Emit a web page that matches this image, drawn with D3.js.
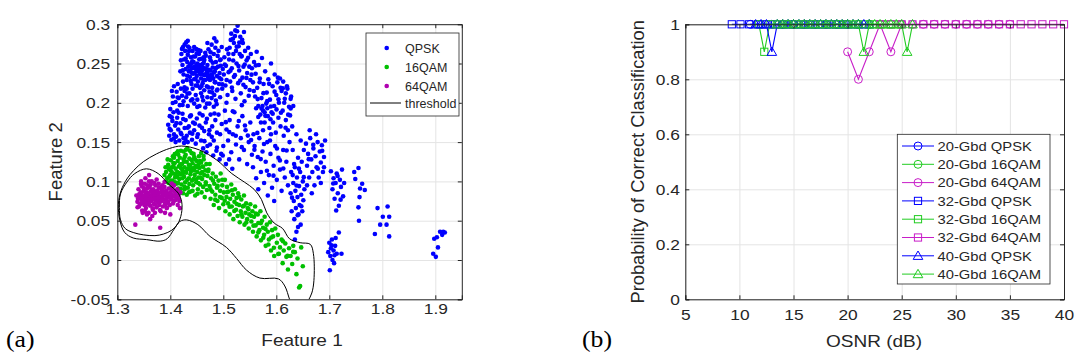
<!DOCTYPE html>
<html lang="en">
<head>
<meta charset="UTF-8">
<title>Feature space and classification probability</title>
<script src="https://d3js.org/d3.v7.min.js"></script>
<style>
  body { margin: 0; background: #fff; }
  svg { display: block; font-family: Arial, "Liberation Sans", Helvetica, sans-serif; }
  .grid line { stroke: #e4e4e4; }
  .grid path { display: none; }
  .ax path, .ax line { stroke: #262626; }
  .ax text { fill: #262626; font-size: 15.5px; font-family: Arial, "Liberation Sans", sans-serif; }
</style>
</head>
<body>
<div id="chart"></div>
<script>
// ---- panel (a): feature space ----
const xTicksA = [1.3, 1.4, 1.5, 1.6, 1.7, 1.8, 1.9];
const xLabelsA = ["1.3", "1.4", "1.5", "1.6", "1.7", "1.8", "1.9"];
const yTicksA = [-0.05, 0, 0.05, 0.1, 0.15, 0.2, 0.25, 0.3];
const yLabelsA = ["-0.05", "0", "0.05", "0.1", "0.15", "0.2", "0.25", "0.3"];
const classNames = ["QPSK", "16QAM", "64QAM", "threshold"];

const qpskPts = [
  [1.421,0.262],[1.423,0.248],[1.424,0.271],[1.425,0.236],[1.426,0.255],[1.428,0.266],[1.429,0.243],[1.430,0.277],[1.431,0.229],[1.432,0.252],
  [1.433,0.261],[1.435,0.240],[1.436,0.270],[1.437,0.233],[1.438,0.249],[1.439,0.258],[1.440,0.224],[1.441,0.244],[1.442,0.266],[1.443,0.237],
  [1.444,0.252],[1.445,0.230],[1.446,0.246],[1.447,0.259],[1.448,0.222],[1.449,0.240],[1.450,0.234],[1.451,0.250],[1.452,0.227],[1.453,0.244],
  [1.454,0.262],[1.455,0.238],[1.456,0.219],[1.457,0.247],[1.458,0.231],[1.459,0.256],[1.460,0.241],[1.461,0.225],[1.462,0.236],[1.463,0.251],
  [1.464,0.216],[1.465,0.244],[1.466,0.229],[1.467,0.260],[1.468,0.238],[1.469,0.221],[1.470,0.248],[1.471,0.233],[1.472,0.268],[1.473,0.242],
  [1.474,0.214],[1.475,0.229],[1.476,0.254],[1.477,0.236],[1.478,0.274],[1.479,0.219],[1.480,0.245],[1.481,0.231],[1.482,0.262],[1.483,0.210],
  [1.484,0.240],[1.485,0.226],[1.486,0.252],[1.487,0.278],[1.488,0.234],[1.489,0.217],[1.490,0.246],[1.491,0.266],[1.492,0.224],[1.493,0.238],
  [1.494,0.207],[1.495,0.255],[1.496,0.230],[1.497,0.271],[1.498,0.218],[1.499,0.243],
  [1.434,0.246],[1.437,0.241],[1.440,0.250],[1.443,0.245],[1.446,0.238],[1.449,0.247],[1.452,0.241],[1.455,0.248],[1.458,0.238],[1.461,0.245],
  [1.464,0.235],[1.467,0.243],[1.470,0.239],[1.473,0.230],[1.476,0.241],[1.479,0.234],[1.444,0.259],[1.450,0.263],[1.457,0.266],[1.463,0.258],
  [1.427,0.274],[1.433,0.279],[1.445,0.271],[1.470,0.276],[1.483,0.282],[1.485,0.270],[1.424,0.227],[1.431,0.218],[1.419,0.240],[1.420,0.254],
  [1.4237,0.2413],[1.4291,0.2562],[1.4318,0.2345],[1.4352,0.2658],[1.4386,0.2276],[1.4413,0.2527],[1.4457,0.2441],[1.4489,0.2684],[1.4512,0.2218],[1.4546,0.2553],
  [1.4573,0.2362],[1.4608,0.2494],[1.4631,0.2289],[1.4659,0.2637],[1.4694,0.2427],[1.4717,0.2196],[1.4748,0.2578],[1.4776,0.2312],[1.4803,0.2509],[1.4839,0.2263],
  [1.4861,0.2441],[1.4894,0.2597],[1.4927,0.2318],[1.4953,0.2472],[1.4981,0.2235],[1.4268,0.2198],[1.4334,0.2717],[1.4402,0.2381],[1.4476,0.2305],[1.4529,0.2672],
  [1.4591,0.2213],[1.4642,0.2546],[1.4705,0.2351],[1.4761,0.2643],[1.4822,0.2384],[1.4877,0.2156],[1.4938,0.2543],[1.4221,0.2686],[1.4377,0.2483],[1.4563,0.2431],
  [1.403,0.215],[1.405,0.208],[1.407,0.221],[1.410,0.201],[1.412,0.214],[1.414,0.224],[1.416,0.206],[1.418,0.197],[1.420,0.218],[1.422,0.209],
  [1.425,0.202],[1.427,0.215],[1.430,0.207],[1.433,0.196],[1.436,0.212],[1.439,0.203],[1.442,0.218],[1.445,0.199],[1.448,0.210],[1.451,0.204],
  [1.455,0.196],[1.458,0.212],[1.462,0.203],[1.466,0.194],[1.470,0.207],[1.474,0.199],[1.478,0.206],[1.482,0.195],[1.486,0.203],[1.413,0.190],
  [1.4047,0.1998],[1.4138,0.2068],[1.4232,0.1972],[1.4324,0.2117],[1.4417,0.2044],[1.4509,0.1948],[1.4603,0.2076],[1.4692,0.1989],[1.4789,0.2132],[1.4874,0.1983],
  [1.501,0.236],[1.502,0.258],[1.504,0.222],[1.505,0.247],[1.507,0.268],[1.508,0.210],[1.510,0.239],[1.511,0.255],[1.513,0.227],[1.514,0.280],
  [1.516,0.244],[1.517,0.215],[1.519,0.262],[1.520,0.233],[1.522,0.285],[1.523,0.205],[1.525,0.250],[1.526,0.291],[1.527,0.298],[1.528,0.225],
  [1.529,0.272],[1.530,0.241],[1.532,0.284],[1.533,0.212],[1.534,0.259],[1.536,0.232],[1.537,0.276],[1.538,0.246],[1.540,0.202],[1.541,0.266],
  [1.542,0.220],[1.544,0.254],[1.545,0.238],[1.547,0.270],[1.548,0.209],[1.549,0.246],[1.551,0.229],[1.515,0.288],[1.520,0.276],[1.531,0.262],
  [1.539,0.290],[1.524,0.266],[1.512,0.270],[1.506,0.200],[1.535,0.197],
  [1.5028,0.2487],[1.5063,0.2291],[1.5097,0.2623],[1.5134,0.2409],[1.5162,0.2195],[1.5187,0.2538],[1.5219,0.2352],[1.5253,0.2714],[1.5286,0.2467],[1.5318,0.2283],
  [1.5347,0.2596],[1.5379,0.2229],[1.5404,0.2488],[1.5436,0.2317],[1.5468,0.2574],[1.5497,0.2162],[1.5226,0.2921],[1.5183,0.2815],[1.5301,0.2768],[1.5356,0.2802],
  [1.552,0.262],[1.554,0.244],[1.556,0.226],[1.558,0.252],[1.560,0.208],[1.561,0.237],[1.563,0.265],[1.564,0.219],[1.566,0.196],[1.567,0.248],
  [1.569,0.231],[1.570,0.185],[1.572,0.206],[1.573,0.257],[1.575,0.190],[1.576,0.224],[1.578,0.175],[1.579,0.240],[1.581,0.199],[1.582,0.213],
  [1.584,0.183],[1.585,0.230],[1.587,0.168],[1.588,0.204],[1.590,0.250],[1.591,0.188],[1.593,0.221],[1.594,0.175],[1.596,0.196],[1.597,0.236],
  [1.599,0.162],[1.600,0.210],[1.602,0.226],[1.604,0.181],[1.605,0.200],[1.607,0.231],[1.608,0.170],[1.610,0.215],[1.612,0.190],[1.614,0.158],
  [1.616,0.205],[1.618,0.178],[1.620,0.221],[1.622,0.165],[1.624,0.195],[1.626,0.184],[1.628,0.208],[1.630,0.170],[1.566,0.182],[1.574,0.196],
  [1.578,0.188],[1.583,0.193],[1.589,0.179],[1.571,0.175],[1.562,0.193],
  [1.5532,0.2358],[1.5576,0.2151],[1.5613,0.2476],[1.5648,0.2047],[1.5685,0.2262],[1.5721,0.1928],[1.5757,0.2123],[1.5793,0.1834],[1.5828,0.2021],[1.5864,0.2241],
  [1.5897,0.1953],[1.5932,0.1861],[1.5968,0.2142],[1.6004,0.1916],[1.6041,0.2045],[1.6087,0.1873],[1.6123,0.2184],[1.6175,0.1682],[1.6224,0.1849],[1.6271,0.1927],
  [1.396,0.172],[1.398,0.158],[1.399,0.183],[1.401,0.165],[1.402,0.153],[1.404,0.177],[1.406,0.188],[1.407,0.160],[1.409,0.171],[1.411,0.157],
  [1.413,0.181],[1.415,0.166],[1.417,0.152],[1.419,0.174],[1.421,0.160],[1.423,0.186],[1.425,0.155],[1.427,0.168],[1.429,0.178],[1.431,0.158],
  [1.433,0.150],[1.435,0.170],[1.437,0.162],[1.439,0.184],[1.441,0.153],[1.443,0.175],[1.445,0.165],[1.448,0.148],[1.450,0.180],[1.452,0.160],
  [1.455,0.171],[1.458,0.152],[1.461,0.184],[1.464,0.164],[1.467,0.175],[1.470,0.145],[1.473,0.160],[1.476,0.185],[1.479,0.170],[1.482,0.152],
  [1.485,0.178],[1.488,0.162],[1.400,0.192],[1.410,0.150],[1.426,0.149],
  [1.3987,0.1668],[1.4028,0.1816],[1.4069,0.1547],[1.4114,0.1742],[1.4158,0.1873],[1.4196,0.1618],[1.4243,0.1794],[1.4287,0.1539],[1.4326,0.1683],[1.4371,0.1827],
  [1.4415,0.1606],[1.4464,0.1735],[1.4508,0.1564],[1.4553,0.1863],[1.4597,0.1681],[1.4644,0.1512],[1.4691,0.1796],[1.4738,0.1652],[1.4782,0.1567],[1.4833,0.1863],
  [1.491,0.185],[1.494,0.160],[1.497,0.173],[1.500,0.145],[1.503,0.190],[1.506,0.166],[1.509,0.152],[1.512,0.178],[1.515,0.137],[1.518,0.160],
  [1.521,0.188],[1.524,0.147],[1.527,0.170],[1.530,0.128],[1.533,0.155],[1.536,0.183],[1.539,0.140],[1.542,0.165],[1.545,0.122],[1.548,0.150],
  [1.551,0.175],[1.554,0.134],[1.557,0.160],[1.496,0.135],[1.488,0.143],
  [1.5048,0.1754],[1.5113,0.1627],[1.5179,0.1893],[1.5236,0.1581],[1.5292,0.1768],[1.5349,0.1436],[1.5408,0.1712],[1.5463,0.1583],[1.5524,0.1527],[1.5587,0.1402],
  [1.5642,0.1617],[1.5706,0.1284],[1.5768,0.1475],[1.5823,0.1136],[1.5881,0.1521],[1.5947,0.1073],[1.6012,0.1418],[1.6068,0.1267],[1.6132,0.1165],[1.6195,0.1394],
  [1.462,0.142],[1.468,0.137],[1.475,0.147],[1.481,0.133],[1.487,0.139],[1.493,0.128],[1.499,0.133],[1.505,0.122],[1.511,0.128],[1.517,0.116],
  [1.556,0.118],[1.559,0.145],[1.562,0.104],[1.565,0.131],[1.568,0.155],[1.571,0.112],[1.574,0.138],[1.577,0.098],[1.580,0.125],[1.583,0.150],
  [1.586,0.108],[1.589,0.135],[1.592,0.092],[1.595,0.120],[1.598,0.145],[1.601,0.102],[1.604,0.130],[1.607,0.115],[1.610,0.088],[1.613,0.140],
  [1.616,0.105],[1.619,0.125],[1.622,0.095],[1.625,0.150],[1.628,0.112],[1.566,0.090],[1.584,0.082],[1.596,0.075],[1.590,0.160],[1.575,0.165],
  [1.627,0.085],[1.629,0.062],[1.631,0.140],[1.632,0.098],[1.633,0.075],[1.634,0.052],[1.635,0.118],[1.636,0.088],[1.637,0.066],[1.638,0.036],
  [1.639,0.105],[1.640,0.080],[1.641,0.130],[1.642,0.058],[1.643,0.094],[1.644,0.070],[1.645,0.112],[1.646,0.045],[1.647,0.083],[1.648,0.125],
  [1.649,0.062],[1.650,0.100],[1.651,0.076],[1.652,0.140],[1.653,0.090],[1.635,0.026],[1.641,0.042],[1.631,0.108],[1.646,0.152],[1.638,0.160],
  [1.6336,0.1221],[1.6382,0.0947],[1.6427,0.1162],[1.6473,0.0684],[1.6518,0.1054],[1.6297,0.0793],[1.6403,0.0569],
  [1.603,0.232],[1.608,0.219],[1.613,0.227],[1.618,0.212],[1.621,0.218],[1.627,0.205],[1.632,0.196],[1.615,0.200],
  [1.656,0.148],[1.658,0.120],[1.660,0.135],[1.662,0.105],[1.664,0.155],[1.666,0.128],[1.668,0.112],[1.670,0.142],[1.672,0.095],[1.674,0.132],
  [1.676,0.118],[1.678,0.150],[1.680,0.105],[1.682,0.138],[1.684,0.124],[1.686,0.146],[1.688,0.112],[1.690,0.131],[1.692,0.152],[1.658,0.095],
  [1.667,0.085],[1.675,0.160],[1.684,0.098],[1.663,0.165],[1.690,0.118],[1.6612,0.1283],[1.6697,0.1466],[1.6783,0.1162],[1.6866,0.1389],
  [1.703,0.113],[1.706,0.090],[1.708,0.104],[1.710,0.078],[1.712,0.098],[1.714,0.110],[1.716,0.085],[1.718,0.069],[1.720,0.102],[1.722,0.093],
  [1.724,0.115],[1.726,0.081],[1.713,0.063],[1.728,0.098],[1.7074,0.0973],[1.7156,0.1068],[1.7213,0.0768],
  [1.698,0.010],[1.700,0.022],[1.702,0.005],[1.703,0.015],[1.705,0.026],[1.706,0.000],[1.708,0.012],[1.709,-0.004],[1.711,0.018],[1.712,0.028],
  [1.714,0.008],[1.701,-0.013],[1.718,0.035],[1.723,0.008],[1.7043,0.0188],[1.7097,0.0061],
  [1.755,0.117],[1.749,0.103],[1.758,0.091],[1.767,0.089],[1.757,0.080],[1.755,0.067],[1.762,0.097],[1.756,0.050],[1.747,0.112],
  [1.791,0.066],[1.786,0.033],[1.796,0.045],[1.801,0.055],[1.808,0.045],[1.810,0.068],[1.813,0.055],[1.813,0.030],
  [1.896,0.008],[1.901,0.004],[1.898,0.027],[1.903,0.029],[1.905,0.016],[1.909,0.036],[1.915,0.036],[1.913,0.032],[1.918,0.035]
];

const qam16Pts = [
  [1.392,0.112],[1.394,0.104],[1.396,0.121],[1.397,0.098],[1.399,0.115],[1.400,0.108],[1.401,0.127],[1.402,0.093],[1.403,0.118],[1.404,0.101],
  [1.405,0.132],[1.406,0.110],[1.407,0.088],[1.408,0.123],[1.409,0.105],[1.410,0.116],[1.411,0.097],[1.412,0.136],[1.413,0.112],[1.414,0.126],
  [1.415,0.091],[1.416,0.119],[1.417,0.103],[1.418,0.130],[1.419,0.109],[1.420,0.139],[1.421,0.096],[1.422,0.122],[1.423,0.114],[1.424,0.085],
  [1.425,0.128],[1.426,0.106],[1.427,0.118],[1.428,0.099],[1.429,0.134],[1.430,0.111],[1.431,0.125],[1.432,0.142],[1.433,0.092],[1.434,0.116],
  [1.435,0.104],[1.436,0.129],[1.437,0.120],[1.438,0.087],[1.439,0.113],[1.440,0.136],[1.441,0.101],[1.442,0.123],[1.443,0.095],[1.444,0.117],
  [1.445,0.131],[1.446,0.108],[1.447,0.082],[1.448,0.120],[1.449,0.099],[1.450,0.126],[1.451,0.112],[1.452,0.090],[1.453,0.105],[1.454,0.132],
  [1.455,0.117],[1.456,0.096],[1.457,0.110],[1.458,0.124],[1.459,0.086],[1.460,0.103],[1.461,0.119],[1.462,0.093],[1.463,0.128],[1.464,0.108],
  [1.465,0.080],[1.466,0.114],[1.467,0.099],[1.468,0.122],[1.469,0.089],[1.470,0.107],
  [1.398,0.106],[1.402,0.113],[1.406,0.119],[1.409,0.099],[1.413,0.106],[1.416,0.111],[1.420,0.117],[1.423,0.104],[1.426,0.125],[1.428,0.112],
  [1.432,0.102],[1.435,0.121],[1.438,0.109],[1.441,0.116],[1.444,0.103],[1.447,0.128],[1.450,0.118],[1.453,0.098],[1.456,0.126],[1.460,0.112],
  [1.415,0.134],[1.425,0.138],[1.437,0.139],[1.444,0.135],[1.418,0.085],[1.427,0.090],[1.431,0.083],[1.442,0.088],[1.407,0.130],[1.395,0.128],
  [1.389,0.108],[1.391,0.118],
  [1.3968,0.1163],[1.4012,0.1009],[1.4057,0.1234],[1.4103,0.1082],[1.4149,0.0978],[1.4187,0.1217],[1.4236,0.1097],[1.4272,0.1312],[1.4318,0.1158],[1.4359,0.0966],
  [1.4404,0.1271],[1.4451,0.1139],[1.4488,0.1027],[1.4534,0.1213],[1.4577,0.1046],[1.4621,0.1187],[1.4668,0.0962],[1.4713,0.1129],[1.4759,0.0898],[1.4806,0.1012],
  [1.4142,0.1382],[1.4296,0.1403],[1.4198,0.0903],[1.4351,0.0862],[1.4513,0.0843],[1.4627,0.1324],[1.4743,0.1221],[1.4582,0.1361],[1.3934,0.0994],[1.4083,0.1347],
  [1.4267,0.0936],
  [1.472,0.115],[1.474,0.094],[1.476,0.078],[1.477,0.104],[1.479,0.087],[1.480,0.110],[1.482,0.070],[1.483,0.097],[1.485,0.083],[1.486,0.106],
  [1.488,0.092],[1.489,0.075],[1.491,0.101],[1.492,0.066],[1.494,0.088],[1.495,0.110],[1.497,0.079],[1.498,0.095],[1.500,0.071],[1.501,0.086],
  [1.503,0.102],[1.504,0.062],[1.506,0.080],[1.507,0.093],[1.509,0.072],[1.510,0.087],[1.512,0.058],[1.513,0.078],[1.515,0.096],[1.516,0.068],
  [1.518,0.083],[1.519,0.052],[1.521,0.074],[1.522,0.090],[1.524,0.064],[1.525,0.079],[1.527,0.056],[1.528,0.085],[1.530,0.070],[1.531,0.048],
  [1.533,0.062],[1.534,0.077],[1.536,0.055],[1.537,0.068],[1.539,0.082],[1.540,0.045],[1.542,0.060],[1.543,0.072],[1.545,0.052],[1.546,0.066],
  [1.548,0.040],[1.549,0.058],
  [1.4848,0.0768],[1.4893,0.0943],[1.4937,0.0802],[1.4981,0.1021],[1.5026,0.0753],[1.5073,0.0864],[1.5118,0.0679],[1.5164,0.0887],[1.5207,0.0623],[1.5253,0.0712],
  [1.5297,0.0806],[1.5342,0.0583],[1.5388,0.0691],[1.5434,0.0478],[1.5476,0.0647],[1.5523,0.0562],[1.5569,0.0437],[1.5614,0.0591],[1.5661,0.0352],[1.5706,0.0468],
  [1.551,0.071],[1.553,0.049],[1.555,0.062],[1.556,0.036],[1.558,0.055],[1.560,0.068],[1.561,0.044],[1.563,0.030],[1.565,0.058],[1.566,0.047],
  [1.568,0.038],[1.570,0.062],[1.571,0.025],[1.573,0.050],[1.575,0.041],[1.577,0.032],[1.578,0.055],[1.580,0.018],[1.582,0.045],[1.584,0.036],
  [1.586,0.026],[1.588,0.048],[1.590,0.012],[1.592,0.038],[1.594,0.030],[1.596,0.005],[1.598,0.040],
  [1.5754,0.0283],[1.5797,0.0394],[1.5852,0.0198],[1.5903,0.0287],[1.5954,0.0156],[1.6038,0.0077],[1.6126,0.0239],[1.6213,0.0052],[1.6318,0.0103],
  [1.601,0.022],[1.603,0.032],[1.605,0.008],[1.607,0.016],[1.610,0.026],[1.612,-0.004],[1.614,0.012],[1.617,0.021],[1.619,0.004],[1.622,-0.012],
  [1.624,0.015],[1.627,0.005],[1.630,-0.005],[1.632,0.018],[1.635,0.010],[1.638,-0.018],[1.640,0.002],[1.643,-0.035],[1.645,-0.033],[1.647,0.016],
  [1.650,-0.008]
];

const qam64Pts = [
  [1.336,0.082],[1.338,0.074],[1.340,0.090],[1.341,0.068],[1.342,0.079],[1.344,0.086],[1.345,0.072],[1.346,0.094],[1.347,0.063],[1.348,0.081],
  [1.349,0.076],[1.350,0.088],[1.351,0.070],[1.352,0.097],[1.353,0.083],[1.354,0.066],[1.355,0.078],[1.356,0.091],[1.357,0.073],[1.358,0.085],
  [1.359,0.060],[1.360,0.080],[1.361,0.093],[1.362,0.069],[1.363,0.087],[1.364,0.075],[1.365,0.100],[1.366,0.082],[1.367,0.064],[1.368,0.090],
  [1.369,0.077],[1.370,0.085],[1.371,0.071],[1.372,0.095],[1.373,0.080],[1.374,0.067],[1.375,0.088],[1.376,0.074],[1.377,0.083],[1.378,0.092],
  [1.379,0.070],[1.380,0.079],[1.381,0.086],[1.382,0.062],[1.383,0.075],[1.384,0.090],[1.385,0.081],[1.386,0.068],[1.387,0.084],[1.388,0.077],
  [1.389,0.093],[1.390,0.072],[1.391,0.082],[1.392,0.088],[1.393,0.066],[1.394,0.079],[1.395,0.085],[1.396,0.074],[1.397,0.091],[1.398,0.080],
  [1.399,0.070],[1.400,0.086],[1.402,0.077],[1.403,0.083],[1.404,0.092],[1.405,0.072],[1.406,0.081],[1.408,0.087],[1.409,0.076],[1.410,0.084],
  [1.412,0.079],[1.413,0.090],[1.415,0.082],[1.417,0.075],[1.419,0.086],
  [1.339,0.078],[1.343,0.071],[1.346,0.084],[1.350,0.080],[1.352,0.074],[1.355,0.086],[1.358,0.077],[1.360,0.071],[1.362,0.082],[1.365,0.078],
  [1.367,0.086],[1.369,0.081],[1.372,0.076],[1.374,0.083],[1.377,0.079],[1.380,0.073],[1.383,0.081],[1.386,0.078],[1.389,0.083],[1.392,0.076],
  [1.357,0.095],[1.363,0.096],[1.370,0.098],[1.378,0.097],[1.385,0.095],[1.353,0.104],[1.360,0.108],[1.348,0.060],[1.356,0.058],[1.366,0.056],
  [1.3413,0.0837],[1.3458,0.0764],[1.3497,0.0916],[1.3534,0.0697],[1.3573,0.0823],[1.3612,0.0768],[1.3648,0.0894],[1.3687,0.0713],[1.3724,0.0861],[1.3763,0.0789],
  [1.3802,0.0923],[1.3841,0.0758],[1.3878,0.0869],[1.3917,0.0712],[1.3956,0.0828],[1.3994,0.0794],[1.4032,0.0892],[1.4071,0.0753],[1.4113,0.0867],[1.4154,0.0784],
  [1.3382,0.0672],[1.3521,0.0621],[1.3669,0.0659],[1.3806,0.0637],[1.3938,0.0664],[1.3447,0.0967],[1.3598,0.1002],[1.3742,0.1024],[1.3891,0.0993],[1.4027,0.0972],
  [1.334,0.045],[1.381,0.041],[1.362,0.052],[1.400,0.058],[1.418,0.066],[1.390,0.060],[1.407,0.095],[1.414,0.070],[1.345,0.100],[1.371,0.060]
];

const outerThreshold = [
  [1.4215,0.145],[1.455,0.140],[1.488,0.127],[1.516,0.110],[1.540,0.099],[1.558,0.090],[1.572,0.077],[1.582,0.060],[1.596,0.047],
  [1.612,0.040],[1.625,0.027],[1.645,0.022],[1.664,0.020],[1.670,0.008],[1.671,-0.026],[1.667,-0.042],[1.660,-0.052],[1.650,-0.064],
  [1.632,-0.062],[1.625,-0.050],[1.616,-0.033],[1.604,-0.024],[1.569,-0.023],[1.544,-0.013],[1.525,0.002],[1.506,0.016],[1.475,0.030],
  [1.452,0.045],[1.431,0.051],[1.418,0.049],[1.407,0.039],[1.394,0.027],[1.381,0.024],[1.355,0.026],[1.330,0.028],[1.314,0.035],
  [1.305,0.050],[1.302,0.071],[1.307,0.088],[1.318,0.103],[1.331,0.114],[1.349,0.125],[1.374,0.135],[1.399,0.142]
];
const innerThreshold = [
  [1.355,0.116],[1.377,0.110],[1.396,0.097],[1.415,0.085],[1.4215,0.074],[1.421,0.059],[1.414,0.046],[1.403,0.038],[1.387,0.033],
  [1.371,0.031],[1.349,0.032],[1.330,0.035],[1.315,0.040],[1.306,0.051],[1.304,0.067],[1.306,0.084],[1.318,0.099],[1.333,0.110]
];

// ---- panel (b): probability of correct classification ----
const xTicksB = [5, 10, 15, 20, 25, 30, 35, 40];
const xLabelsB = ["5", "10", "15", "20", "25", "30", "35", "40"];
const yTicksB = [0, 0.2, 0.4, 0.6, 0.8, 1];
const yLabelsB = ["0", "0.2", "0.4", "0.6", "0.8", "1"];

const osnr20Qpsk = [11, 12, 13, 14, 15, 16, 17, 18, 19, 20, 21, 22];
const pcc20Qpsk = [1, 1, 1, 1, 1, 1, 1, 1, 1, 1, 1, 1];
const osnr20Qam16 = [14, 15, 16, 17, 18, 19, 20, 21, 22, 23, 24, 25];
const pcc20Qam16 = [1, 1, 1, 1, 1, 1, 1, 1, 1, 1, 1, 1];
const osnr20Qam64 = [20, 21, 22, 23, 24, 25, 26, 27, 28, 29, 30, 31, 32, 33, 34, 35];
const pcc20Qam64 = [0.9, 0.8, 0.9, 1, 0.9, 1, 1, 1, 1, 1, 1, 1, 1, 1, 1, 1];
const osnr32Qpsk = [9.3, 10.1, 10.9, 11.7, 12.5, 13.3, 14.1, 14.9, 15.7, 16.5, 17.3, 18.1, 18.9, 19.7];
const pcc32Qpsk = [1, 1, 1, 1, 1, 1, 1, 1, 1, 1, 1, 1, 1, 1];
const osnr32Qam16 = [11.8, 12.3, 12.8, 13.6, 14.4, 15.2, 16, 16.8, 17.6, 18.4, 19.2, 20, 20.8, 21.6, 22.4, 23.2, 24, 24.8];
const pcc32Qam16 = [1, 0.9, 1, 1, 1, 1, 1, 1, 1, 1, 1, 1, 1, 1, 1, 1, 1, 1];
const osnr32Qam64 = [23, 24, 25, 26, 27, 28, 29, 30, 31, 32, 33, 34, 35, 36, 37, 38, 39, 40];
const pcc32Qam64 = [1, 1, 1, 1, 1, 1, 1, 1, 1, 1, 1, 1, 1, 1, 1, 1, 1, 1];
const osnr40Qpsk = [11.5, 12, 12.5, 13, 13.5, 14, 14.5, 15, 15.5, 16, 16.5, 17, 17.5, 18, 18.5, 19, 19.5, 20, 20.5, 21, 21.5, 22];
const pcc40Qpsk = [1, 1, 1, 0.9, 1, 1, 1, 1, 1, 1, 1, 1, 1, 1, 1, 1, 1, 1, 1, 1, 1, 1];
const osnr40Qam16 = [13.5, 14, 14.5, 15, 15.5, 16, 16.5, 17, 17.5, 18, 18.5, 19, 19.5, 20, 20.5, 21, 21.5, 22, 22.5, 23, 23.5, 24, 24.5, 25, 25.5, 26];
const pcc40Qam16 = [1, 1, 1, 1, 1, 1, 1, 1, 1, 1, 1, 1, 1, 1, 1, 1, 0.9, 1, 1, 1, 1, 1, 1, 1, 0.9, 1];

const BLUE = "#0000ff", GREEN = "#22cc22", MAG = "#c81ec8";
const seriesB = [
  { name: "20-Gbd QPSK", x: osnr20Qpsk, y: pcc20Qpsk, color: BLUE, sym: "circle" },
  { name: "20-Gbd 16QAM", x: osnr20Qam16, y: pcc20Qam16, color: GREEN, sym: "circle" },
  { name: "20-Gbd 64QAM", x: osnr20Qam64, y: pcc20Qam64, color: MAG, sym: "circle" },
  { name: "32-Gbd QPSK", x: osnr32Qpsk, y: pcc32Qpsk, color: BLUE, sym: "square" },
  { name: "32-Gbd 16QAM", x: osnr32Qam16, y: pcc32Qam16, color: GREEN, sym: "square" },
  { name: "32-Gbd 64QAM", x: osnr32Qam64, y: pcc32Qam64, color: MAG, sym: "square" },
  { name: "40-Gbd QPSK", x: osnr40Qpsk, y: pcc40Qpsk, color: BLUE, sym: "triangle" },
  { name: "40-Gbd 16QAM", x: osnr40Qam16, y: pcc40Qam16, color: GREEN, sym: "triangle" }
];

// text in the source picture is a bit wider than plain Arial
const SX = 1.12;

const svg = d3.select("#chart").append("svg").attr("width", 1075).attr("height", 360);

function label(x, y, s, size, anchor, rot, family, sx) {
  return svg.append("text")
    .attr("transform", `translate(${x},${y}) scale(${sx || SX},1)` + (rot ? ` rotate(${rot})` : ""))
    .attr("text-anchor", anchor)
    .style("font-size", size + "px")
    .style("font-family", family || null)
    .attr("fill", "#262626")
    .text(s);
}

function grid(x, y, xt, yt) {
  const [x0, x1] = x.range(), [y0, y1] = y.range();
  svg.append("g").attr("class", "grid").attr("transform", `translate(0,${y0})`)
    .call(d3.axisBottom(x).tickValues(xt).tickSize(-(y0 - y1)).tickFormat(""));
  svg.append("g").attr("class", "grid").attr("transform", `translate(${x0},0)`)
    .call(d3.axisLeft(y).tickValues(yt).tickSize(-(x1 - x0)).tickFormat(""));
}

function axes(x, y, xt, xl, yt, yl, xpad, ypad) {
  const [x0, x1] = x.range(), [y0, y1] = y.range();
  svg.append("g").attr("class", "ax").attr("transform", `translate(0,${y0})`)
    .call(d3.axisBottom(x).tickValues(xt).tickSize(-4).tickPadding(xpad).tickFormat((d, i) => xl[i]))
    .selectAll("text").attr("transform", `scale(${SX},1)`);
  svg.append("g").attr("class", "ax").attr("transform", `translate(0,${y1})`)
    .call(d3.axisTop(x).tickValues(xt).tickSize(-4).tickFormat(""));
  svg.append("g").attr("class", "ax").attr("transform", `translate(${x0},0)`)
    .call(d3.axisLeft(y).tickValues(yt).tickSize(-4).tickPadding(ypad).tickFormat((d, i) => yl[i]))
    .selectAll("text").attr("transform", `scale(${SX},1)`);
  svg.append("g").attr("class", "ax").attr("transform", `translate(${x1},0)`)
    .call(d3.axisRight(y).tickValues(yt).tickSize(-4).tickFormat(""));
  svg.selectAll(".ax .domain").attr("stroke-width", 1);
}

// ===== panel (a) =====
const xa = d3.scaleLinear().domain([1.3, 1.95]).range([117.3, 461.8]);
const ya = d3.scaleLinear().domain([-0.05, 0.3]).range([299.3, 24.2]);

svg.append("clipPath").attr("id", "clipA").append("rect")
  .attr("x", xa.range()[0]).attr("y", ya.range()[1])
  .attr("width", xa.range()[1] - xa.range()[0]).attr("height", ya.range()[0] - ya.range()[1]);

grid(xa, ya, xTicksA, yTicksA);

const scatterA = svg.append("g").attr("clip-path", "url(#clipA)");
const classColors = ["#0000ff", "#00c000", "#b000b0"];
[qpskPts, qam16Pts, qam64Pts].forEach((pts, k) => {
  scatterA.append("g").selectAll("circle").data(pts).join("circle")
    .attr("cx", d => xa(d[0])).attr("cy", d => ya(d[1]))
    .attr("r", 2.3).attr("fill", classColors[k]);
});

const contour = d3.line().x(d => xa(d[0])).y(d => ya(d[1])).curve(d3.curveCatmullRomClosed.alpha(0.5));
[outerThreshold, innerThreshold].forEach(c => {
  scatterA.append("path").attr("d", contour(c)).attr("fill", "none")
    .attr("stroke", "#000").attr("stroke-width", 1);
});

axes(xa, ya, xTicksA, xLabelsA, yTicksA, yLabelsA, 4, 6.4);

// legend (a)
const legA = svg.append("g");
legA.append("rect").attr("x", 366).attr("y", 33).attr("width", 93).attr("height", 83)
  .attr("fill", "#fff").attr("stroke", "#262626").attr("stroke-width", 0.8);
const legAy = [48, 67, 86, 103];
classNames.forEach((n, i) => {
  if (i < 3) {
    legA.append("circle").attr("cx", 386.7).attr("cy", legAy[i]).attr("r", 2.3).attr("fill", classColors[i]);
  } else {
    legA.append("line").attr("x1", 370).attr("x2", 401).attr("y1", legAy[i]).attr("y2", legAy[i])
      .attr("stroke", "#000").attr("stroke-width", 1);
  }
  label(405, legAy[i] + 4.8, n, 12.5, "start", 0, null, 1.0);
});

label(302, 346, "Feature 1", 17, "middle");
label(62, 161.8, "Feature 2", 18.5, "middle", -90, null, 1.0);
label(6, 347, "(a)", 23, "start", 0, "'Liberation Serif', 'Times New Roman', serif").attr("fill", "#000");

// ===== panel (b) =====
const xb = d3.scaleLinear().domain([5, 40]).range([685.3, 1064]);
const yb = d3.scaleLinear().domain([0, 1]).range([299.3, 24.3]);

grid(xb, yb, xTicksB, yTicksB);

function marker(g, sym, cx, cy, color) {
  if (sym === "circle") {
    g.append("circle").attr("cx", cx).attr("cy", cy).attr("r", 4)
      .attr("fill", "none").attr("stroke", color).attr("stroke-width", 1);
  } else if (sym === "square") {
    g.append("rect").attr("x", cx - 3.6).attr("y", cy - 3.6).attr("width", 7.2).attr("height", 7.2)
      .attr("fill", "none").attr("stroke", color).attr("stroke-width", 1);
  } else {
    g.append("path").attr("transform", `translate(${cx},${cy})`).attr("d", "M0,-4.8L4.8,3.6L-4.8,3.6Z")
      .attr("fill", "none").attr("stroke", color).attr("stroke-width", 1);
  }
}

const lineB = d3.line().x(d => xb(d[0])).y(d => yb(d[1]));
const plotB = svg.append("g");
seriesB.forEach(s => {
  const pts = s.x.map((v, i) => [v, s.y[i]]);
  const g = plotB.append("g");
  g.append("path").attr("d", lineB(pts)).attr("fill", "none").attr("stroke", s.color).attr("stroke-width", 1.1);
  pts.forEach(p => marker(g, s.sym, xb(p[0]), yb(p[1]), s.color));
});

axes(xb, yb, xTicksB, xLabelsB, yTicksB, yLabelsB, 10, 4.8);

// legend (b)
const legB = svg.append("g");
legB.append("rect").attr("x", 897.3).attr("y", 134.3).attr("width", 152.7).attr("height", 149.7)
  .attr("fill", "#fff").attr("stroke", "#262626").attr("stroke-width", 0.8);
seriesB.forEach((s, i) => {
  const yy = 146 + i * 18.3;
  legB.append("line").attr("x1", 902).attr("x2", 934).attr("y1", yy).attr("y2", yy)
    .attr("stroke", s.color).attr("stroke-width", 1);
  marker(legB, s.sym, 918, yy, s.color);
  label(937.5, yy + 4.7, s.name, 13.2, "start");
});

label(874, 347, "OSNR (dB)", 17, "middle");
label(644, 161.8, "Probability of Correct Classification", 18.3, "middle", -90, null, 1.0);
label(582, 347, "(b)", 23, "start", 0, "'Liberation Serif', 'Times New Roman', serif").attr("fill", "#000");
</script>
</body>
</html>
